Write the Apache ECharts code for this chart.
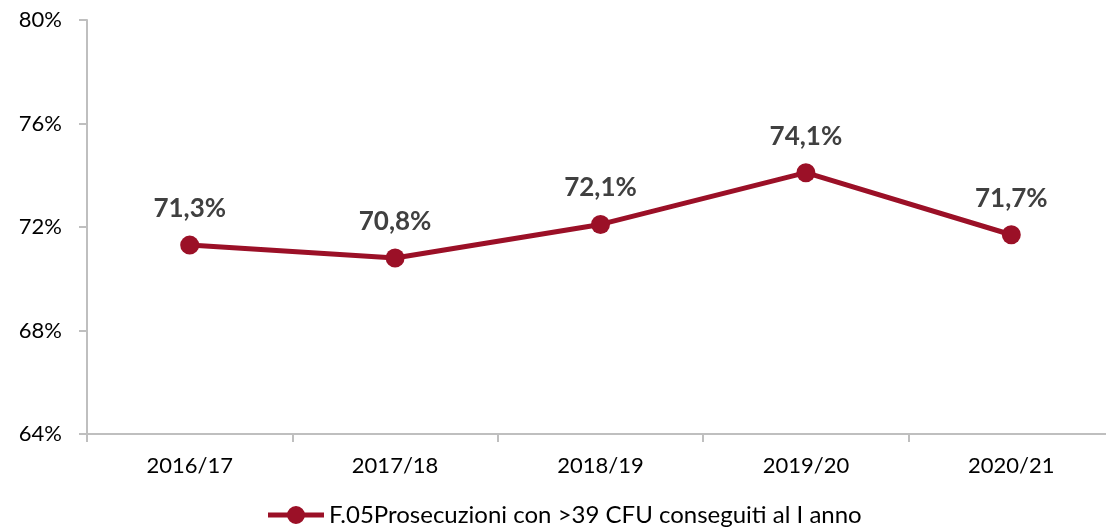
<!DOCTYPE html>
<html>
<head>
<meta charset="utf-8">
<script src="https://cdn.jsdelivr.net/npm/echarts@6/dist/echarts.min.js"></script>
<style>
html,body{margin:0;padding:0;background:#fff;}
#chart{width:1106px;height:529px;}
</style>
</head>
<body>
<div id="chart"></div>
<script>
// anni accademici e valori (%)
var anni = ['2016/17', '2017/18', '2018/19', '2019/20', '2020/21'];
var valori = [71.3, 70.8, 72.1, 74.1, 71.7];
var nomeSerie = 'F.05Prosecuzioni con >39 CFU conseguiti al I anno';

var colore = '#9B1027';
// icona legenda: linea con pallino al centro
var iconaLegenda = 'path://M0,6.5H20V11.5H0Z M36,6.5H56V11.5H36Z M19,9A9,9 0 1,1 37,9A9,9 0 1,1 19,9Z';

var myChart = echarts.init(document.getElementById('chart'));
var option = {
  animation: false,
  textStyle: { fontFamily: 'Lato, "Open Sans", sans-serif' },
  grid: { left: 87, top: 20, width: 1027, height: 414, outerBoundsMode: 'none', containLabel: false },
  xAxis: {
    type: 'category',
    data: anni,
    boundaryGap: true,
    axisLine: { lineStyle: { color: '#bfbfbf', width: 2 } },
    axisTick: { show: true, length: 8, lineStyle: { color: '#bfbfbf', width: 2 } },
    axisLabel: { color: '#000', fontSize: 22, margin: 21 }
  },
  yAxis: {
    type: 'value',
    min: 64, max: 80, interval: 4,
    axisLine: { show: true, lineStyle: { color: '#bfbfbf', width: 2 } },
    axisTick: { show: true, length: 8, lineStyle: { color: '#bfbfbf', width: 2 } },
    splitLine: { show: false },
    axisLabel: { color: '#000', fontSize: 22, margin: 25, formatter: '{value}%' }
  },
  legend: {
    bottom: -3,
    left: 263,
    itemWidth: 56,
    itemHeight: 18,
    itemGap: 10,
    textStyle: { color: '#000', fontSize: 24 },
    data: [{ name: nomeSerie, icon: iconaLegenda }]
  },
  series: [{
    name: nomeSerie,
    type: 'line',
    data: valori,
    symbol: 'circle',
    symbolSize: 19,
    itemStyle: { color: colore },
    lineStyle: { color: colore, width: 5 },
    label: {
      show: true,
      position: 'top',
      distance: 14,
      color: '#404040',
      fontSize: 26,
      fontWeight: 'bold',
      formatter: function (p) { return p.value.toFixed(1).replace('.', ',') + '%'; }
    }
  }]
};
myChart.setOption(option);
</script>
</body>
</html>
